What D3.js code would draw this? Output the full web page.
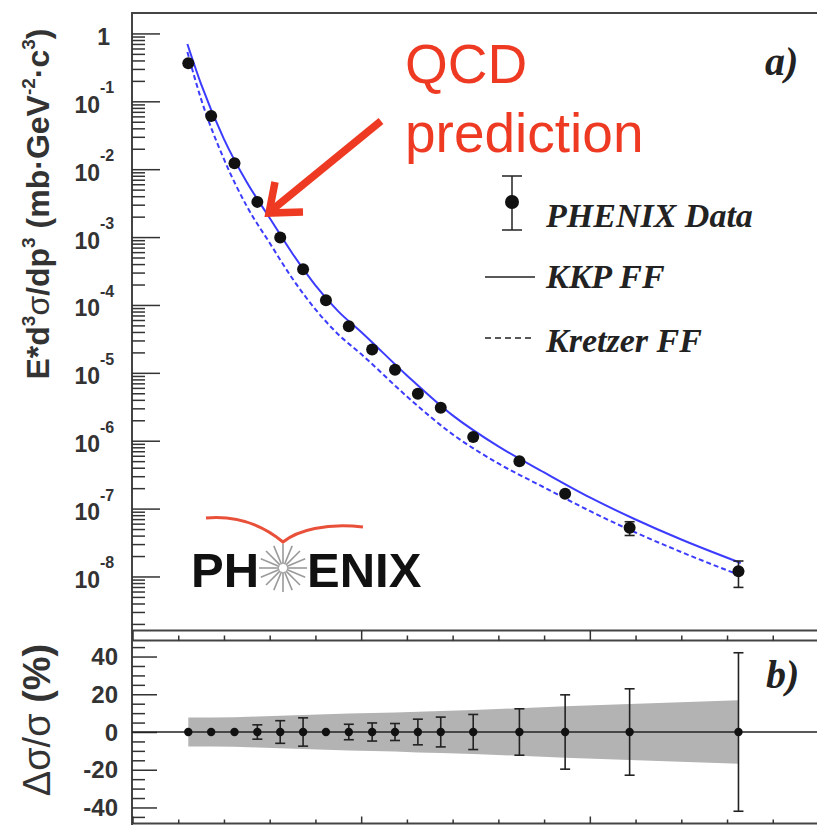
<!DOCTYPE html>
<html>
<head>
<meta charset="utf-8">
<script src="https://cdn.jsdelivr.net/npm/d3@7"></script>
<style>
  body { margin: 0; background: #fff; }
  svg { display: block; }
  text { font-family: "Liberation Sans", Arial, sans-serif; }
  .leg { font-family: "Liberation Serif", "Times New Roman", serif; font-weight: bold; font-style: italic; fill: #222; }
</style>
</head>
<body>
<svg id="chart" width="817" height="827"></svg>
<script>
'use strict';

// pi0 cross section (pT in GeV/c)
var pT = [1.22, 1.72, 2.23, 2.73, 3.23, 3.73, 4.23, 4.73, 5.24, 5.74, 6.24, 6.74, 7.45, 8.46, 9.46, 10.87, 13.25];
var xsec = [0.363, 0.0607, 0.0122, 3.30e-3, 9.86e-4, 3.36e-4, 1.17e-4, 4.85e-5, 2.20e-5, 1.11e-5,
            4.93e-6, 3.07e-6, 1.13e-6, 5.00e-7, 1.65e-7, 5.21e-8, 1.19e-8];
var statErr = [1.5, 1.5, 1.5, 3.8, 6, 7.5, 1.5, 4.1, 4.8, 4.5, 6.8, 7.9, 9.3, 12.3, 19.7, 22.9, 42];   // %
var sysErr = [7.7, 7.7, 7.8, 8.2, 8.6, 9.0, 9.4, 9.8, 10.1, 10.4, 10.8, 11.1, 11.6, 12.6, 13.6, 14.8, 16.8]; // %

// NLO pQCD curves
var curvePt = [1.2, 1.5, 2, 2.5, 3, 3.5, 4, 4.5, 5, 6, 7, 8, 9, 10, 11, 12, 13.3];
var kkp = [0.70, 0.179, 0.0277, 6.41e-3, 1.91e-3, 5.69e-4, 1.95e-4, 8.05e-5, 4.0e-5, 9.16e-6,
           2.36e-6, 8.24e-7, 3.41e-7, 1.46e-7, 6.91e-8, 3.50e-8, 1.58e-8];
var kretzer = [0.533, 0.1077, 0.01405, 2.84e-3, 8.18e-4, 2.43e-4, 8.61e-5, 3.68e-5, 1.89e-5, 4.49e-6,
               1.24e-6, 4.62e-7, 2.05e-7, 9.23e-8, 4.44e-8, 2.29e-8, 1.03e-8];

var decades = [0, -1, -2, -3, -4, -5, -6, -7, -8];
var pctTicks = [40, 20, 0, -20, -40];
var xMajor = [0, 5, 10, 15];

var svg = d3.select('#chart');
var red = '#ee3a22', blue = '#3c3cff', ink = '#222';

var x = d3.scaleLinear().domain([0, 15]).range([132.5, 818.5]);
var yTop = d3.scaleLog().domain([1.6e-9, 2]).range([630.5, 13]);
var yBot = d3.scaleLinear().domain([-48.5, 48.5]).range([823.5, 640.5]);

// frames
var frame = svg.append('g').attr('stroke', '#444').attr('stroke-width', 2).attr('fill', 'none');
frame.append('line').attr('x1', 132).attr('x2', 818).attr('y1', 13).attr('y2', 13);
frame.append('line').attr('x1', 132).attr('x2', 818).attr('y1', 630.5).attr('y2', 630.5);
frame.append('line').attr('x1', 132).attr('x2', 818).attr('y1', 640.5).attr('y2', 640.5);
frame.append('line').attr('x1', 132).attr('x2', 818).attr('y1', 823.5).attr('y2', 823.5);
frame.append('line').attr('x1', 132).attr('x2', 132).attr('y1', 12).attr('y2', 825);

// log axis ticks (top panel)
var minors = [];
for (var d = -9; d <= 0; d++) {
  for (var k = 2; k <= 9; k++) {
    var v = k * Math.pow(10, d);
    if (v > 1.6e-9 && v < 2) minors.push(v);
  }
}
function tickAxis(axis, tx, ty) {
  var g = svg.append('g').attr('transform', 'translate(' + tx + ',' + ty + ')')
    .style('color', '#333').call(axis);
  g.select('.domain').remove();
  g.selectAll('line').attr('stroke-width', 1.5);
  return g;
}
tickAxis(d3.axisRight(yTop).tickValues(decades.map(function (e) { return Math.pow(10, e); })).tickSize(28).tickFormat(''), 132, 0);
tickAxis(d3.axisRight(yTop).tickValues(minors).tickSize(13).tickFormat(''), 132, 0);

// linear axis ticks (bottom panel)
tickAxis(d3.axisRight(yBot).tickValues(pctTicks).tickSize(25).tickFormat(''), 132, 0);
tickAxis(d3.axisRight(yBot).tickValues(d3.range(-45, 50, 5).filter(function (v) { return v % 20 !== 0; })).tickSize(13).tickFormat(''), 132, 0);

// x ticks
var xMinor = d3.range(1, 15).filter(function (v) { return v % 5 !== 0; });
tickAxis(d3.axisTop(x).tickValues(xMajor).tickSize(10).tickFormat(''), 0, 640.5);
tickAxis(d3.axisTop(x).tickValues(xMinor).tickSize(5).tickFormat(''), 0, 640.5);
tickAxis(d3.axisTop(x).tickValues(xMajor).tickSize(7).tickFormat(''), 0, 823.5);
tickAxis(d3.axisTop(x).tickValues(xMinor).tickSize(4).tickFormat(''), 0, 823.5);

// tick labels
var lab = svg.append('g').attr('fill', '#333').attr('font-weight', 'bold');
decades.forEach(function (e) {
  var yy = yTop(Math.pow(10, e));
  if (e === 0) {
    lab.append('text').attr('x', 110).attr('y', yy + 11.5).attr('text-anchor', 'end')
      .attr('font-size', 23).text('1');
  } else {
    lab.append('text').attr('x', 100).attr('y', yy + 11.5).attr('text-anchor', 'end')
      .attr('font-size', 23).text('10');
    lab.append('text').attr('x', 100).attr('y', yy - 8).attr('font-size', 16).text(String(e));
  }
});
pctTicks.forEach(function (p) {
  lab.append('text').attr('x', 118).attr('y', yBot(p) + 8.5).attr('text-anchor', 'end')
    .attr('font-size', 24).text(String(p));
});

// axis titles
var t1 = svg.append('text').attr('transform', 'translate(49,204) rotate(-90)')
  .attr('text-anchor', 'middle').attr('font-size', 32).attr('font-weight', 'bold').attr('fill', '#333');
var parts = [['E*d', 0], ['3', 1], ['\u03c3', 2], ['/dp', 0], ['3', 1], [' (mb\u00b7GeV', 0], ['-2', 1], ['\u00b7c', 0], ['3', 1], [')', 0]];
var raised = false;
parts.forEach(function (p) {
  var ts = t1.append('tspan').text(p[0]);
  if (p[1] === 1) {
    ts.attr('font-size', 19).attr('dy', -14);
    raised = true;
  } else {
    if (raised) ts.attr('dy', 14);
    raised = false;
    if (p[1] === 2) ts.attr('font-weight', 'normal');
  }
});

var t2 = svg.append('text').attr('transform', 'translate(50,720) rotate(-90)')
  .attr('text-anchor', 'middle').attr('font-size', 38).attr('fill', '#333');
t2.append('tspan').text('\u0394\u03c3/\u03c3');
t2.append('tspan').attr('font-weight', 'bold').text(' (%)');

// bottom panel: systematic band, zero line, relative errors
svg.append('path')
  .datum(pT)
  .attr('fill', '#b3b3b3')
  .attr('d', d3.area()
    .x(function (d) { return x(d); })
    .y0(function (d, i) { return yBot(-sysErr[i]); })
    .y1(function (d, i) { return yBot(sysErr[i]); }));

svg.append('line').attr('x1', 132).attr('x2', 818).attr('y1', yBot(0)).attr('y2', yBot(0))
  .attr('stroke', ink).attr('stroke-width', 1.6);

var bot = svg.append('g').attr('stroke', ink).attr('stroke-width', 1.6);
pT.forEach(function (p, i) {
  var cx = x(p), up = yBot(statErr[i]), dn = yBot(-statErr[i]);
  if (dn - up > 9) {
    bot.append('line').attr('x1', cx).attr('x2', cx).attr('y1', up).attr('y2', dn);
    bot.append('line').attr('x1', cx - 5).attr('x2', cx + 5).attr('y1', up).attr('y2', up);
    bot.append('line').attr('x1', cx - 5).attr('x2', cx + 5).attr('y1', dn).attr('y2', dn);
  }
});
svg.append('g').selectAll('circle').data(pT).enter().append('circle')
  .attr('cx', function (d) { return x(d); })
  .attr('cy', yBot(0))
  .attr('r', 4.2)
  .attr('fill', '#111');

// top panel: theory curves
var line = d3.line().curve(d3.curveMonotoneX);
svg.append('path')
  .attr('d', line(curvePt.map(function (p, i) { return [x(p), yTop(kkp[i])]; })))
  .attr('fill', 'none').attr('stroke', blue).attr('stroke-width', 2);
svg.append('path')
  .attr('d', line(curvePt.map(function (p, i) { return [x(p), yTop(kretzer[i])]; })))
  .attr('fill', 'none').attr('stroke', blue).attr('stroke-width', 2).attr('stroke-dasharray', '5,3');

// top panel: data with errors
var topErr = svg.append('g').attr('stroke', ink).attr('stroke-width', 1.6);
pT.forEach(function (p, i) {
  var cx = x(p);
  var up = yTop(xsec[i] * (1 + statErr[i] / 100));
  var dn = yTop(xsec[i] * (1 - statErr[i] / 100));
  if (dn - up > 13) {
    topErr.append('line').attr('x1', cx).attr('x2', cx).attr('y1', up).attr('y2', dn);
    topErr.append('line').attr('x1', cx - 5).attr('x2', cx + 5).attr('y1', up).attr('y2', up);
    topErr.append('line').attr('x1', cx - 5).attr('x2', cx + 5).attr('y1', dn).attr('y2', dn);
  }
});
svg.append('g').selectAll('circle').data(pT).enter().append('circle')
  .attr('cx', function (d) { return x(d); })
  .attr('cy', function (d, i) { return yTop(xsec[i]); })
  .attr('r', 6)
  .attr('fill', '#111');

// legend
var leg = svg.append('g');
leg.append('line').attr('x1', 512).attr('x2', 512).attr('y1', 176).attr('y2', 230).attr('stroke', ink).attr('stroke-width', 1.5);
leg.append('line').attr('x1', 502).attr('x2', 522).attr('y1', 176).attr('y2', 176).attr('stroke', ink).attr('stroke-width', 1.5);
leg.append('line').attr('x1', 502).attr('x2', 522).attr('y1', 230).attr('y2', 230).attr('stroke', ink).attr('stroke-width', 1.5);
leg.append('circle').attr('cx', 512).attr('cy', 202).attr('r', 7).attr('fill', '#111');
leg.append('text').attr('class', 'leg').attr('x', 546).attr('y', 227).attr('font-size', 34).text('PHENIX Data');
leg.append('line').attr('x1', 485).attr('x2', 535).attr('y1', 277).attr('y2', 277).attr('stroke', ink).attr('stroke-width', 1.5);
leg.append('text').attr('class', 'leg').attr('x', 546).attr('y', 288).attr('font-size', 34).text('KKP FF');
leg.append('line').attr('x1', 485).attr('x2', 535).attr('y1', 338).attr('y2', 338).attr('stroke', ink).attr('stroke-width', 1.5).attr('stroke-dasharray', '6,4');
leg.append('text').attr('class', 'leg').attr('x', 546).attr('y', 352).attr('font-size', 34).text('Kretzer FF');

svg.append('text').attr('class', 'leg').attr('x', 765).attr('y', 75).attr('font-size', 40).text('a)');
svg.append('text').attr('class', 'leg').attr('x', 766).attr('y', 688).attr('font-size', 40).text('b)');

// QCD annotation
svg.append('text').attr('x', 405).attr('y', 83).attr('font-size', 55).attr('fill', red).text('QCD');
svg.append('text').attr('x', 405).attr('y', 152).attr('font-size', 55).attr('fill', red).text('prediction');
svg.append('line').attr('x1', 381).attr('y1', 121).attr('x2', 272).attr('y2', 210)
  .attr('stroke', red).attr('stroke-width', 7.5);
svg.append('path').attr('d', 'M275,182 L269,213 L303,212')
  .attr('fill', 'none').attr('stroke', red).attr('stroke-width', 7.5).attr('stroke-linejoin', 'miter');

// PHENIX logo
var logo = svg.append('g');
logo.append('path').attr('d', 'M206,518 C240,515 266,528 283,542 C298,530 326,523 363,527')
  .attr('fill', 'none').attr('stroke', '#e8503a').attr('stroke-width', 3);
d3.range(16).forEach(function (i) {
  var a = i * Math.PI / 8;
  logo.append('line')
    .attr('x1', 283 + 4 * Math.cos(a)).attr('y1', 568 + 4 * Math.sin(a))
    .attr('x2', 283 + 24 * Math.cos(a)).attr('y2', 568 + 24 * Math.sin(a))
    .attr('stroke', '#9a9a9a').attr('stroke-width', 1.6);
});
logo.append('text').attr('x', 191).attr('y', 587).attr('font-size', 49).attr('font-weight', 'bold').attr('fill', '#111').text('PH');
logo.append('text').attr('x', 307).attr('y', 587).attr('font-size', 49).attr('font-weight', 'bold').attr('fill', '#111').text('ENIX');
</script>
</body>
</html>
